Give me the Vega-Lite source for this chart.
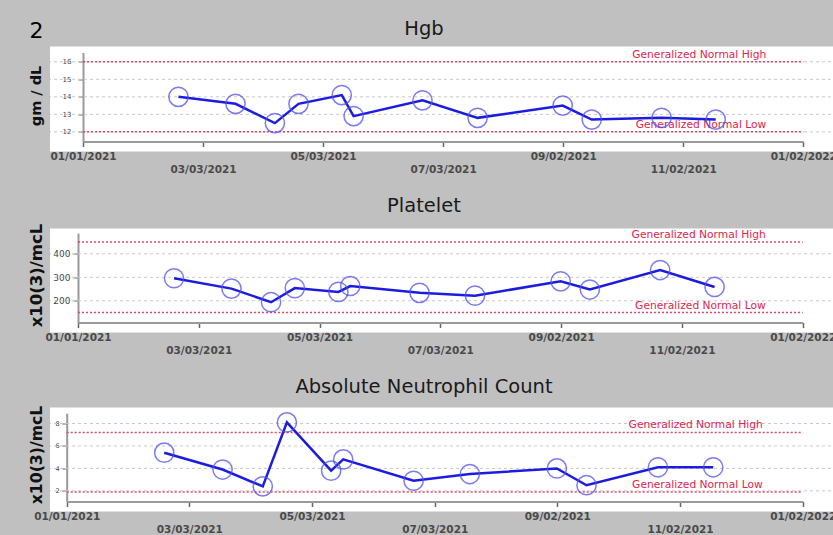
{
  "$schema": "https://vega.github.io/schema/vega-lite/v6.json",
  "background": "#c0c0c0",
  "padding": {"left": 28, "top": 18.5, "right": 0, "bottom": 0},
  "spacing": 20,
  "config": {
    "view": {"fill": "white", "stroke": null},
    "font": "DejaVu Sans",
    "axisX": {"grid": false, "domainColor": "#9a9a9a", "domainWidth": 2, "tickColor": "#666666", "tickSize": 5, "tickWidth": 1.5, "labelFont": "DejaVu Sans", "labelFontWeight": "bold", "labelFontSize": 10.5, "labelColor": "#4a4a4a", "labelFlush": false, "labelOverlap": false, "labelBaseline": "top", "title": null},
    "axisY": {"grid": false, "domainColor": "#9a9a9a", "domainWidth": 2, "tickColor": "#777777", "tickSize": 5, "tickWidth": 1, "labelFont": "DejaVu Sans", "labelColor": "#444444", "labelOverlap": false, "titleFont": "DejaVu Sans", "titleFontWeight": "bold", "titleColor": "#111111", "titleBaseline": "bottom", "titleAngle": 270, "titleAlign": "center"}
  },
  "datasets": {
    "hgb": [
      {"date": "2021-02-18T12:00:00", "value": 14.0},
      {"date": "2021-03-19T12:00:00", "value": 13.6},
      {"date": "2021-04-08T12:00:00", "value": 12.5},
      {"date": "2021-04-20T12:00:00", "value": 13.6},
      {"date": "2021-05-12T12:00:00", "value": 14.1},
      {"date": "2021-05-18T12:00:00", "value": 12.9},
      {"date": "2021-06-22T12:00:00", "value": 13.8},
      {"date": "2021-07-20T12:00:00", "value": 12.8},
      {"date": "2021-09-01T18:00:00", "value": 13.5},
      {"date": "2021-09-16T12:00:00", "value": 12.7},
      {"date": "2021-10-22T00:00:00", "value": 12.8},
      {"date": "2021-11-18T12:00:00", "value": 12.7}
    ],
    "plt": [
      {"date": "2021-02-18T12:00:00", "value": 296},
      {"date": "2021-03-19T12:00:00", "value": 252},
      {"date": "2021-04-08T12:00:00", "value": 194},
      {"date": "2021-04-20T12:00:00", "value": 254},
      {"date": "2021-05-12T12:00:00", "value": 238},
      {"date": "2021-05-18T12:00:00", "value": 263},
      {"date": "2021-06-22T12:00:00", "value": 234},
      {"date": "2021-07-20T12:00:00", "value": 222},
      {"date": "2021-09-01T18:00:00", "value": 283},
      {"date": "2021-09-16T12:00:00", "value": 248},
      {"date": "2021-10-22T00:00:00", "value": 331},
      {"date": "2021-11-18T12:00:00", "value": 259}
    ],
    "anc": [
      {"date": "2021-02-18T12:00:00", "value": 5.4},
      {"date": "2021-03-19T12:00:00", "value": 3.9},
      {"date": "2021-04-08T12:00:00", "value": 2.4},
      {"date": "2021-04-20T12:00:00", "value": 8.1},
      {"date": "2021-05-12T12:00:00", "value": 3.8},
      {"date": "2021-05-18T12:00:00", "value": 4.8},
      {"date": "2021-06-22T12:00:00", "value": 2.9},
      {"date": "2021-07-20T12:00:00", "value": 3.5},
      {"date": "2021-09-01T18:00:00", "value": 4.0},
      {"date": "2021-09-16T12:00:00", "value": 2.5},
      {"date": "2021-10-22T00:00:00", "value": 4.1},
      {"date": "2021-11-18T12:00:00", "value": 4.1}
    ],
    "hgbNorm": [
      {"date": "2021-01-01T00:00:00", "date2": "2022-01-02T00:00:00", "value": 16, "label": "Generalized Normal High"},
      {"date": "2021-01-01T00:00:00", "date2": "2022-01-02T00:00:00", "value": 12, "label": "Generalized Normal Low"}
    ],
    "pltNorm": [
      {"date": "2021-01-01T00:00:00", "date2": "2022-01-02T00:00:00", "value": 450, "label": "Generalized Normal High"},
      {"date": "2021-01-01T00:00:00", "date2": "2022-01-02T00:00:00", "value": 150, "label": "Generalized Normal Low"}
    ],
    "ancNorm": [
      {"date": "2021-01-01T00:00:00", "date2": "2022-01-02T00:00:00", "value": 7.2, "label": "Generalized Normal High"},
      {"date": "2021-01-01T00:00:00", "date2": "2022-01-02T00:00:00", "value": 1.9, "label": "Generalized Normal Low"}
    ],
    "hgbGrid": [{"value": 12}, {"value": 13}, {"value": 14}, {"value": 15}, {"value": 16}],
    "pltGrid": [{"value": 200}, {"value": 300}, {"value": 400}],
    "ancGrid": [{"value": 2}, {"value": 4}, {"value": 6}, {"value": 8}],
    "none": []
  },
  "vconcat": [
    {
      "hconcat": [
        {
          "width": 3, "height": 105,
          "view": {"fill": "#c0c0c0", "stroke": null},
          "title": {"text": "2", "anchor": "start", "frame": "group", "baseline": "alphabetic", "offset": -13, "dx": -17.5, "fontSize": 22, "font": "DejaVu Sans", "fontWeight": "normal", "color": "#000000"},
          "data": {"name": "none"},
          "mark": {"type": "point"},
          "encoding": {}
        },
        {
          "width": 787, "height": 105,
          "title": {"text": "Hgb", "fontSize": 19.5, "font": "DejaVu Sans", "fontWeight": "normal", "color": "#1a1a1a", "anchor": "middle", "frame": "group", "baseline": "alphabetic", "offset": -7.5, "dx": -19.5},
          "encoding": {"y": {"field": "value", "type": "quantitative", "scale": {"domain": [11.45, 16.53], "range": [95, 6], "nice": false, "zero": false}, "axis": {"title": "gm / dL", "values": [12, 13, 14, 15, 16], "labelOverlap": false, "offset": -33, "labelFontSize": 7, "labelPadding": 7, "titleFontSize": 14.5, "titleX": -40, "titleY": 49}}},
          "layer": [
            {"data": {"name": "hgbGrid"}, "mark": {"type": "rule", "color": "#c8c8c8", "strokeDash": [3, 3], "strokeWidth": 1}},
            {"data": {"name": "hgbNorm"}, "mark": {"type": "rule", "color": "#ec4466", "strokeDash": [2, 2], "strokeWidth": 1.5},
             "encoding": {"x": {"field": "date", "type": "temporal", "scale": {"domain": [{"year": 2021, "month": 1, "date": 1}, {"year": 2022, "month": 1, "date": 2}], "range": [33, 753.3], "nice": false}, "axis": {"values": [{"year": 2021, "month": 1, "date": 1}, {"year": 2021, "month": 3, "date": 3}, {"year": 2021, "month": 5, "date": 3}, {"year": 2021, "month": 7, "date": 3}, {"year": 2021, "month": 9, "date": 2}, {"year": 2021, "month": 11, "date": 2}, {"year": 2022, "month": 1, "date": 2}], "format": "%m/%d/%Y", "offset": -10, "labelPadding": {"condition": {"test": "month(datum.value) % 4 == 2", "value": 18}, "value": 5}}},
                          "x2": {"field": "date2"}}},
            {"data": {"name": "hgbNorm"}, "mark": {"type": "text", "align": "right", "baseline": "alphabetic", "dx": -37, "dy": -4, "fontSize": 10.7, "font": "DejaVu Sans", "color": "#e0244e"},
             "encoding": {"x": {"field": "date2", "type": "temporal"}, "text": {"field": "label"}}},
            {"data": {"name": "hgb"}, "mark": {"type": "line", "color": "#1c1ce0", "strokeWidth": 2.5},
             "encoding": {"x": {"field": "date", "type": "temporal"}}},
            {"data": {"name": "hgb"}, "mark": {"type": "point", "shape": "circle", "filled": false, "size": 370, "color": "#5050f0", "strokeWidth": 1.5, "opacity": 0.75},
             "encoding": {"x": {"field": "date", "type": "temporal"}}}
          ]
        }
      ],
      "spacing": 0,
      "bounds": "flush"
    },
    {
      "hconcat": [
        {
          "width": 3, "height": 104,
          "view": {"fill": "#c0c0c0", "stroke": null},
          "title": {"text": " ", "anchor": "start", "frame": "group", "baseline": "alphabetic", "offset": -13, "dx": -17.5, "fontSize": 22, "font": "DejaVu Sans", "fontWeight": "normal", "color": "#000000"},
          "data": {"name": "none"},
          "mark": {"type": "point"},
          "encoding": {}
        },
        {
          "width": 787, "height": 104,
          "title": {"text": "Platelet", "fontSize": 19.5, "font": "DejaVu Sans", "fontWeight": "normal", "color": "#1a1a1a", "anchor": "middle", "frame": "group", "baseline": "alphabetic", "offset": -8, "dx": -19.5},
          "encoding": {"y": {"field": "value", "type": "quantitative", "scale": {"domain": [107.7, 487.7], "range": [94, 4.7], "nice": false, "zero": false}, "axis": {"title": "x10(3)/mcL", "values": [200, 300, 400], "labelOverlap": false, "offset": -28, "labelFontSize": 9, "labelPadding": 3, "titleFontSize": 16.5, "titleX": -33.7, "titleY": 46.5}}},
          "layer": [
            {"data": {"name": "pltGrid"}, "mark": {"type": "rule", "color": "#c8c8c8", "strokeDash": [3, 3], "strokeWidth": 1}},
            {"data": {"name": "pltNorm"}, "mark": {"type": "rule", "color": "#ec4466", "strokeDash": [2, 2], "strokeWidth": 1.5},
             "encoding": {"x": {"field": "date", "type": "temporal", "scale": {"domain": [{"year": 2021, "month": 1, "date": 1}, {"year": 2022, "month": 1, "date": 2}], "range": [28, 752.7], "nice": false}, "axis": {"values": [{"year": 2021, "month": 1, "date": 1}, {"year": 2021, "month": 3, "date": 3}, {"year": 2021, "month": 5, "date": 3}, {"year": 2021, "month": 7, "date": 3}, {"year": 2021, "month": 9, "date": 2}, {"year": 2021, "month": 11, "date": 2}, {"year": 2022, "month": 1, "date": 2}], "format": "%m/%d/%Y", "offset": -10, "labelPadding": {"condition": {"test": "month(datum.value) % 4 == 2", "value": 18}, "value": 5}}},
                          "x2": {"field": "date2"}}},
            {"data": {"name": "pltNorm"}, "mark": {"type": "text", "align": "right", "baseline": "alphabetic", "dx": -37, "dy": -4, "fontSize": 10.7, "font": "DejaVu Sans", "color": "#e0244e"},
             "encoding": {"x": {"field": "date2", "type": "temporal"}, "text": {"field": "label"}}},
            {"data": {"name": "plt"}, "mark": {"type": "line", "color": "#1c1ce0", "strokeWidth": 2.5},
             "encoding": {"x": {"field": "date", "type": "temporal"}}},
            {"data": {"name": "plt"}, "mark": {"type": "point", "shape": "circle", "filled": false, "size": 370, "color": "#5050f0", "strokeWidth": 1.5, "opacity": 0.75},
             "encoding": {"x": {"field": "date", "type": "temporal"}}}
          ]
        }
      ],
      "spacing": 0,
      "bounds": "flush"
    },
    {
      "hconcat": [
        {
          "width": 3, "height": 104,
          "view": {"fill": "#c0c0c0", "stroke": null},
          "title": {"text": " ", "anchor": "start", "frame": "group", "baseline": "alphabetic", "offset": -13, "dx": -17.5, "fontSize": 22, "font": "DejaVu Sans", "fontWeight": "normal", "color": "#000000"},
          "data": {"name": "none"},
          "mark": {"type": "point"},
          "encoding": {}
        },
        {
          "width": 787, "height": 104,
          "title": {"text": "Absolute Neutrophil Count", "fontSize": 19.5, "font": "DejaVu Sans", "fontWeight": "normal", "color": "#1a1a1a", "anchor": "middle", "frame": "group", "baseline": "alphabetic", "offset": -7.5, "dx": -19.5},
          "encoding": {"y": {"field": "value", "type": "quantitative", "scale": {"domain": [1.05, 8.92], "range": [94, 5.7], "nice": false, "zero": false}, "axis": {"title": "x10(3)/mcL", "values": [2, 4, 6, 8], "labelOverlap": false, "offset": -16.7, "labelFontSize": 6.5, "labelPadding": 2.5, "titleFontSize": 15.7, "titleX": -21.7, "titleY": 47}}},
          "layer": [
            {"data": {"name": "ancGrid"}, "mark": {"type": "rule", "color": "#c8c8c8", "strokeDash": [3, 3], "strokeWidth": 1}},
            {"data": {"name": "ancNorm"}, "mark": {"type": "rule", "color": "#ec4466", "strokeDash": [2, 2], "strokeWidth": 1.5},
             "encoding": {"x": {"field": "date", "type": "temporal", "scale": {"domain": [{"year": 2021, "month": 1, "date": 1}, {"year": 2022, "month": 1, "date": 2}], "range": [16.7, 752.7], "nice": false}, "axis": {"values": [{"year": 2021, "month": 1, "date": 1}, {"year": 2021, "month": 3, "date": 3}, {"year": 2021, "month": 5, "date": 3}, {"year": 2021, "month": 7, "date": 3}, {"year": 2021, "month": 9, "date": 2}, {"year": 2021, "month": 11, "date": 2}, {"year": 2022, "month": 1, "date": 2}], "format": "%m/%d/%Y", "offset": -10, "labelPadding": {"condition": {"test": "month(datum.value) % 4 == 2", "value": 18}, "value": 5}}},
                          "x2": {"field": "date2"}}},
            {"data": {"name": "ancNorm"}, "mark": {"type": "text", "align": "right", "baseline": "alphabetic", "dx": -40, "dy": -4, "fontSize": 10.7, "font": "DejaVu Sans", "color": "#e0244e"},
             "encoding": {"x": {"field": "date2", "type": "temporal"}, "text": {"field": "label"}}},
            {"data": {"name": "anc"}, "mark": {"type": "line", "color": "#1c1ce0", "strokeWidth": 2.5},
             "encoding": {"x": {"field": "date", "type": "temporal"}}},
            {"data": {"name": "anc"}, "mark": {"type": "point", "shape": "circle", "filled": false, "size": 370, "color": "#5050f0", "strokeWidth": 1.5, "opacity": 0.75},
             "encoding": {"x": {"field": "date", "type": "temporal"}}}
          ]
        }
      ],
      "spacing": 0,
      "bounds": "flush"
    }
  ]
}
